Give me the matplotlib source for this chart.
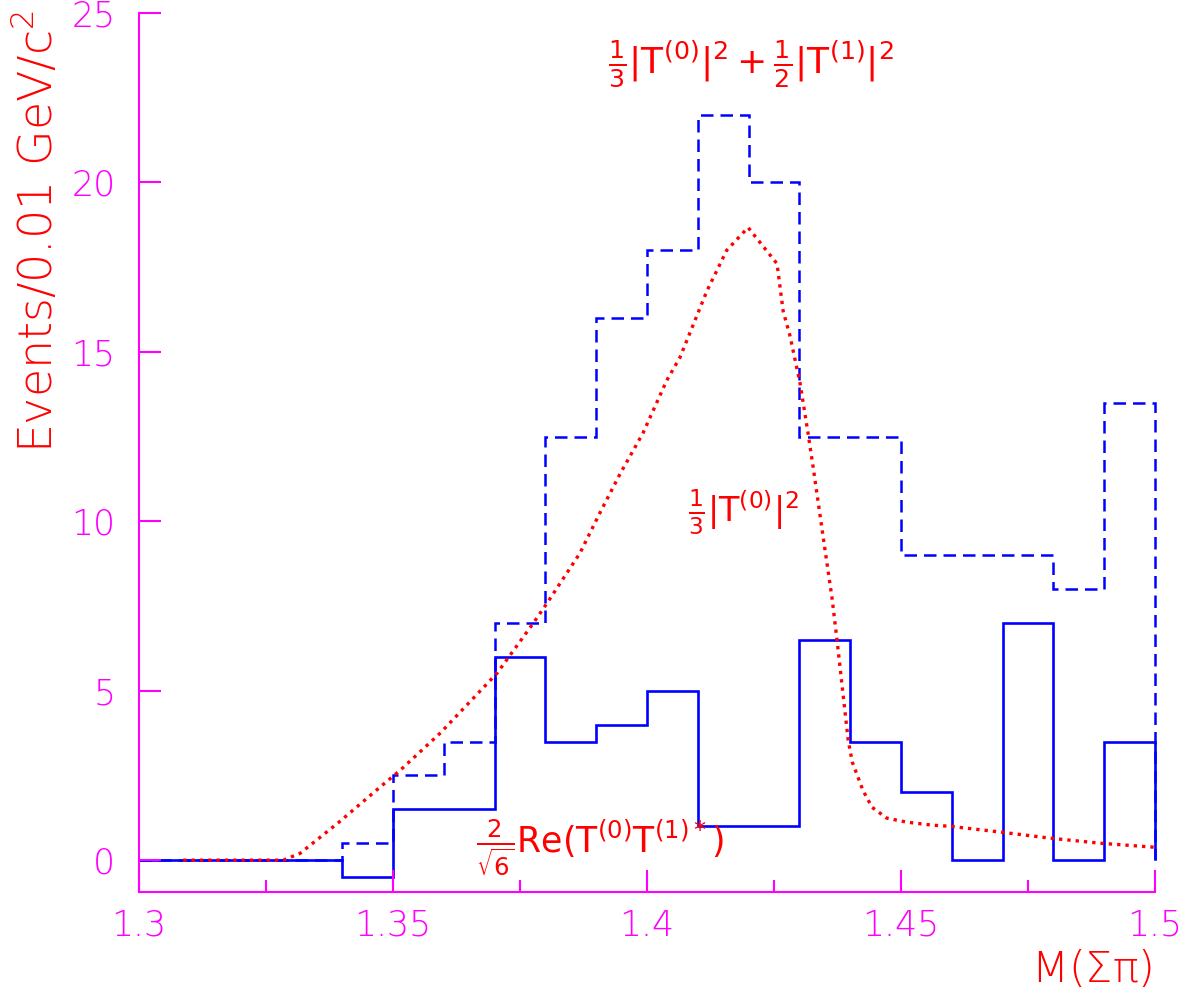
import matplotlib
matplotlib.use("Agg")
import matplotlib.pyplot as plt
import numpy as np

# ---------------- data ----------------
bin_edges = [1.30, 1.31, 1.32, 1.33, 1.34, 1.35, 1.36, 1.37, 1.38, 1.39, 1.40,
             1.41, 1.42, 1.43, 1.44, 1.45, 1.46, 1.47, 1.48, 1.49, 1.50]
# dashed histogram: 1/3|T0|^2 + 1/2|T1|^2
total_counts = [0, 0, 0, 0, 0.5, 2.5, 3.5, 7, 12.5, 16, 18,
                22, 20, 12.5, 12.5, 9, 9, 9, 8, 13.5]
# solid histogram: interference term
interf_counts = [0, 0, 0, 0, -0.5, 1.5, 1.5, 6, 3.5, 4, 5,
                 1, 1, 6.5, 3.5, 2, 0, 7, 0, 3.5]
# dotted curve: 1/3|T0|^2
curve_x = [1.3087, 1.3200, 1.3284, 1.3317, 1.3392, 1.3474, 1.3514, 1.3593,
           1.3705, 1.3776, 1.3803, 1.3868, 1.3907, 1.3947, 1.3992, 1.4039,
           1.4065, 1.4118, 1.4157, 1.4199, 1.4256, 1.4268, 1.4281, 1.4301,
           1.4317, 1.4327, 1.4350, 1.4364, 1.4374, 1.4396, 1.4404, 1.4425,
           1.4443, 1.4472, 1.4512, 1.4563, 1.4596, 1.4695, 1.4793, 1.4892, 1.5000]
curve_y = [0.0, 0.0, 0.0, 0.2, 1.1, 2.15, 2.65, 3.75,
           5.52, 6.99, 7.58, 9.06, 10.24, 11.4, 12.6, 14.16,
           14.84, 16.8, 18.0, 18.67, 17.6, 16.2, 15.5, 14.1,
           12.6, 11.6, 9.2, 7.76, 6.5, 3.54, 2.9, 2.06,
           1.56, 1.24, 1.12, 1.03, 1.0, 0.83, 0.65, 0.5, 0.38]
x_ticks = [1.3, 1.35, 1.4, 1.45, 1.5]
x_tick_labels = ["1.3", "1.35", "1.4", "1.45", "1.5"]
x_minor = [1.325, 1.375, 1.425, 1.475]
y_ticks = [0, 5, 10, 15, 20, 25]
y_tick_labels = ["0", "5", "10", "15", "20", "25"]

MAG = "#ff00ff"
RED = "#ff0000"
BLUE = "#0000ff"

plt.rcParams["font.family"] = ["DejaVu Sans"]
plt.rcParams["mathtext.default"] = "regular"
plt.rcParams["mathtext.fontset"] = "dejavusans"

W, H = 1181, 994
fig = plt.figure(figsize=(W / 100, H / 100), dpi=100)
ax = fig.add_axes([139 / W, 1 - 892 / H, (1155 - 139) / W, (892 - 13) / H])

ax.stairs(total_counts, bin_edges, baseline=0, color=BLUE, lw=1.8,
          linestyle=(0, (5, 2.8)), clip_on=False)
ax.stairs(interf_counts, bin_edges, baseline=0, color=BLUE, lw=1.9, clip_on=False)
ax.plot(curve_x, curve_y, color=RED, lw=2.4, linestyle=(0, (1, 1.5)))

ax.set_xlim(1.3, 1.5)
ax.set_ylim(-0.94, 25)

for s in ["top", "right"]:
    ax.spines[s].set_visible(False)
for s in ["left", "bottom"]:
    ax.spines[s].set_color(MAG)
    ax.spines[s].set_linewidth(1.5)

ax.set_xticks(x_ticks)
ax.set_xticklabels(x_tick_labels)
ax.set_xticks(x_minor, minor=True)
ax.set_yticks(y_ticks)
ax.set_yticklabels(y_tick_labels)
ax.tick_params(axis="both", which="major", direction="in", length=16, width=1.5,
               color=MAG, labelcolor=MAG, labelsize=25)
ax.tick_params(axis="x", which="minor", direction="in", length=9, width=1.5, color=MAG)
ax.tick_params(axis="x", which="major", pad=12)
ax.tick_params(axis="y", which="major", pad=17)
for lab in ax.get_xticklabels() + ax.get_yticklabels():
    lab.set_fontweight("light")

# axis titles
fig.text(36 / W, 1 - 10 / H, r"Events/0.01 GeV/c$^{2}$", rotation=90, color=RED,
         fontsize=33, ha="center", va="top", fontweight="light")
fig.text(1152 / W, 1 - 990 / H, r"M($\Sigma\pi$)", color=RED, fontsize=31,
         ha="right", va="bottom", fontweight="light")

# annotations
ax.text(1.4205, 23.5, r"$\frac{1}{3}|T^{(0)}|^2+\frac{1}{2}|T^{(1)}|^2$",
        color=RED, fontsize=26, ha="center", va="center")
ax.text(1.4191, 10.27, r"$\frac{1}{3}|T^{(0)}|^2$", color=RED, fontsize=24,
        ha="center", va="center")
ax.text(1.3907, 0.38, r"$\frac{2}{\sqrt{6}}Re(T^{(0)}T^{(1)*})$", color=RED,
        fontsize=25, ha="center", va="center")

fig.savefig("out.png", dpi=100)
